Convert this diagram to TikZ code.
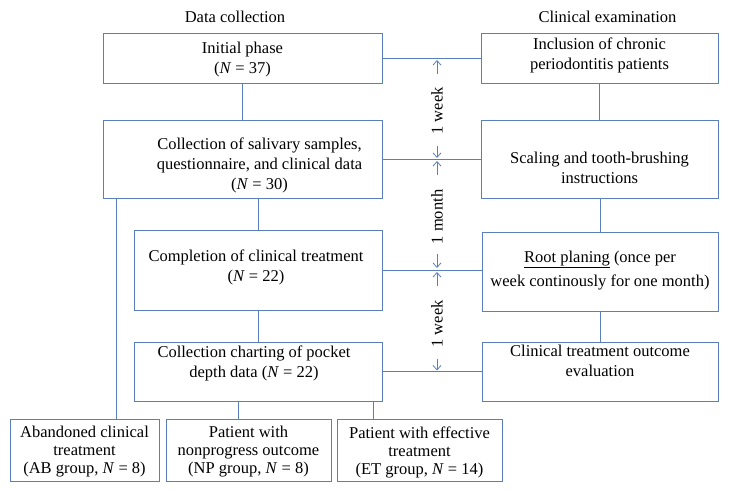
\documentclass[tikz,border=0pt]{standalone}
\usepackage{fontspec}
\setmainfont{Liberation Serif}
\usetikzlibrary{arrows.meta}
\definecolor{flowblue}{RGB}{90,128,188}

\begin{document}
\begin{tikzpicture}[x=1pt, y=-1pt, every node/.style={font=\fontsize{16.5}{20}\selectfont},
		box/.style={draw=flowblue, line width=0.9pt, inner sep=0pt},
		txt/.style={align=center, inner sep=0pt},
		grp/.style={txt, font=\fontsize{16.5}{18}\selectfont},
		link/.style={draw=flowblue, line width=0.9pt},
		dimarr/.style={draw=flowblue, line width=0.8pt, -{Straight Barb[length=4.5pt,width=8pt]}}]
	\useasboundingbox (0,0) rectangle (729,492);

	% Column titles
	\node (datatitle) at (235,17) {Data collection};
	\node (clintitle) at (607.5,17) {Clinical examination};

	% Data collection boxes
	\node[box, minimum width=279, minimum height=50, label={[txt, yshift=-2pt]center:{Initial phase\\(\textit{N} = 37)}}] (init) at (242.5,58) {};
	\node[box, minimum width=279, minimum height=78, label={[txt, xshift=17pt, yshift=-6pt]center:{Collection of salivary samples,\\questionnaire, and clinical data\\(\textit{N} = 30)}}] (saliv) at (242.5,159) {};
	\node[box, minimum width=248, minimum height=80, label={[txt, xshift=-2pt, yshift=3pt]center:{Completion of clinical treatment\\(\textit{N} = 22)}}] (compl) at (258,270) {};
	\node[box, minimum width=248, minimum height=59, label={[txt, xshift=-4pt, yshift=8pt]center:{Collection charting of pocket\\depth data (\textit{N} = 22)}}] (chart) at (258,371.5) {};

	% Clinical examination boxes
	\node[box, minimum width=237, minimum height=50, label={[txt, yshift=3pt]center:{Inclusion of chronic\\periodontitis patients}}] (incl) at (599.5,58) {};
	\node[box, minimum width=237, minimum height=78, label={[txt, yshift=-9pt]center:{Scaling and tooth-brushing\\instructions}}] (scal) at (599.5,159) {};
	\node[box, minimum width=236, minimum height=79, label={[txt, yshift=1pt]center:{\underline{Root planing} (once per\\[4pt]week continously for one month)}}] (root) at (600,271.5) {};
	\node[box, minimum width=236, minimum height=59, label={[txt, yshift=11pt]center:{Clinical treatment outcome\\evaluation}}] (outc) at (600,371.5) {};

	% Outcome groups
	\node[box, minimum width=149, minimum height=62, label={[grp, yshift=-2pt]center:{Abandoned clinical\\treatment\\(AB group, \textit{N} = 8)}}] (ab) at (84.5,450) {};
	\node[box, minimum width=165, minimum height=62, label={[grp, yshift=-2pt]center:{Patient with\\nonprogress outcome\\(NP group, \textit{N} = 8)}}] (np) at (248.5,450) {};
	\node[box, minimum width=165, minimum height=62, label={[grp, yshift=-2pt]center:{Patient with effective\\treatment\\(ET group, \textit{N} = 14)}}] (et) at (419.5,450) {};

	% Time spans
	\node[rotate=90] (wk1) at (437,111) {1 week};
	\node[rotate=90] (mon) at (437,217) {1 month};
	\node[rotate=90] (wk2) at (437,324) {1 week};

	% Vertical connectors
	\draw[link] (init) -- (saliv);
	\draw[link] (compl.north |- saliv.south) -- (compl.north);
	\draw[link] (compl) -- (chart);
	\draw[link] (incl) -- (scal);
	\draw[link] (scal.south -| root.north) -- (root.north);
	\draw[link] (root) -- (outc);
	\draw[link] ([xshift=14pt]saliv.south west) -- ([xshift=14pt]saliv.south west |- ab.north);
	\draw[link] ([xshift=-20pt]chart.south) -- ([xshift=-20pt]chart.south |- np.north);
	\draw[link] ([xshift=-9pt]chart.south east) -- ([xshift=-9pt]chart.south east |- et.north);

	% Horizontal connectors
	\draw[link] (init) -- (incl);
	\draw[link] (saliv) -- (scal);
	\draw[link] (compl.east) -- (compl.east -| root.west);
	\draw[link] (chart) -- (outc);

	% Arrows
	\coordinate (a1) at (init.east -| wk1);
	\coordinate (a2) at (saliv.east -| wk1);
	\coordinate (a3) at (compl.east -| wk1);
	\coordinate (a4) at (chart.east -| wk1);
	\draw[dimarr] (a1) ++(0,16) -- ++(0,-14);
	\draw[dimarr] (a2) ++(0,-13) -- ++(0,12);
	\draw[dimarr] (a2) ++(0,16) -- ++(0,-14);
	\draw[dimarr] (a3) ++(0,-16) -- ++(0,14);
	\draw[dimarr] (a3) ++(0,16) -- ++(0,-14);
	\draw[dimarr] (a4) ++(0,-13) -- ++(0,12);
\end{tikzpicture}
\end{document}
